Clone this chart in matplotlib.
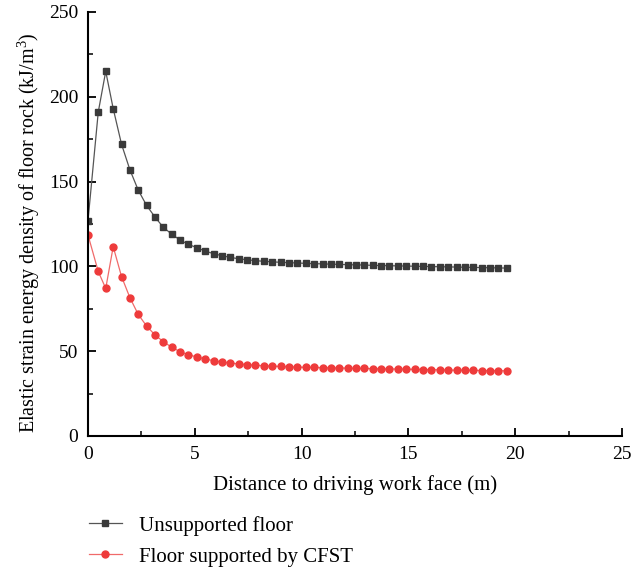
import matplotlib
matplotlib.use("Agg")
import matplotlib.pyplot as plt
from matplotlib.ticker import MultipleLocator

plt.rcParams['font.family'] = ['Liberation Serif', 'DejaVu Serif']
plt.rcParams['mathtext.fontset'] = 'custom'
plt.rcParams['mathtext.rm'] = 'Liberation Serif'
plt.rcParams['mathtext.it'] = 'Liberation Serif:italic'

# Distance to driving work face (m)
distance = [0.00, 0.48, 0.83, 1.18, 1.57, 1.96, 2.35, 2.74, 3.14, 3.53,
            3.92, 4.31, 4.70, 5.10, 5.49, 5.88, 6.27, 6.66, 7.06, 7.45,
            7.84, 8.23, 8.62, 9.02, 9.41, 9.80, 10.19, 10.58, 10.98, 11.37,
            11.76, 12.15, 12.54, 12.94, 13.33, 13.72, 14.11, 14.50, 14.90, 15.29,
            15.68, 16.07, 16.46, 16.86, 17.25, 17.64, 18.03, 18.42, 18.82, 19.21,
            19.60]

# Elastic strain energy density (kJ/m3)
unsupported = [127, 191, 215, 193, 172, 157, 145, 136, 129, 123,
               119, 115.5, 113, 111, 109, 107.5, 106.3, 105.3, 104.5, 103.9,
               103.4, 103.0, 102.7, 102.4, 102.2, 102.0, 101.8, 101.6, 101.5, 101.3,
               101.2, 101.0, 100.9, 100.8, 100.6, 100.5, 100.4, 100.3, 100.2, 100.1,
               100.0, 99.9, 99.8, 99.7, 99.6, 99.5, 99.4, 99.3, 99.2, 99.1,
               99.0]
supported_cfst = [118.5, 97, 87, 111.6, 94, 81.6, 71.7, 64.9, 59.5, 55.6,
                  52.3, 49.7, 47.9, 46.6, 45.4, 44.4, 43.6, 43.0, 42.5, 42.1,
                  41.7, 41.4, 41.2, 41.0, 40.8, 40.6, 40.5, 40.4, 40.3, 40.2,
                  40.1, 40.0, 39.9, 39.8, 39.7, 39.6, 39.5, 39.5, 39.4, 39.3,
                  39.2, 39.1, 39.0, 38.9, 38.8, 38.8, 38.7, 38.6, 38.5, 38.5,
                  38.4]

fig = plt.figure(figsize=(6.4, 5.68), dpi=100)
ax = fig.add_axes([0.1375, 0.2324, 0.8345, 0.7465])

ax.plot(distance, unsupported, color='#555555', lw=0.9, marker='s', ms=4.5,
        mfc='#3a3a3a', mec='#3a3a3a', label='Unsupported floor', zorder=3)
ax.plot(distance, supported_cfst, color='#f06a6a', lw=0.9, marker='o', ms=5,
        mfc='#ee3b3b', mec='#ee3b3b', label='Floor supported by CFST', zorder=3)

ax.set_xlim(0, 25)
ax.set_ylim(0, 250)
ax.xaxis.set_major_locator(MultipleLocator(5))
ax.xaxis.set_minor_locator(MultipleLocator(2.5))
ax.yaxis.set_major_locator(MultipleLocator(50))
ax.yaxis.set_minor_locator(MultipleLocator(25))

for side in ['top', 'right']:
    ax.spines[side].set_visible(False)
for side in ['left', 'bottom']:
    ax.spines[side].set_linewidth(1.5)
    ax.spines[side].set_zorder(4)

ax.tick_params(which='major', direction='in', length=6, width=1.3, labelsize=14, pad=7)
ax.tick_params(which='minor', direction='in', length=3.5, width=1.1)

ax.set_xlabel('Distance to driving work face (m)', fontsize=15, labelpad=9)
ax.set_ylabel('Elastic strain energy density of floor rock (kJ/m$^3$)', fontsize=14.5)
ax.yaxis.set_label_coords(-0.086, 0.48)

fig.legend(loc='upper left', bbox_to_anchor=(0.109, 0.125), frameon=False,
           fontsize=15, handlelength=1.63, labelspacing=0.55)

fig.savefig('out.png', dpi=100)
